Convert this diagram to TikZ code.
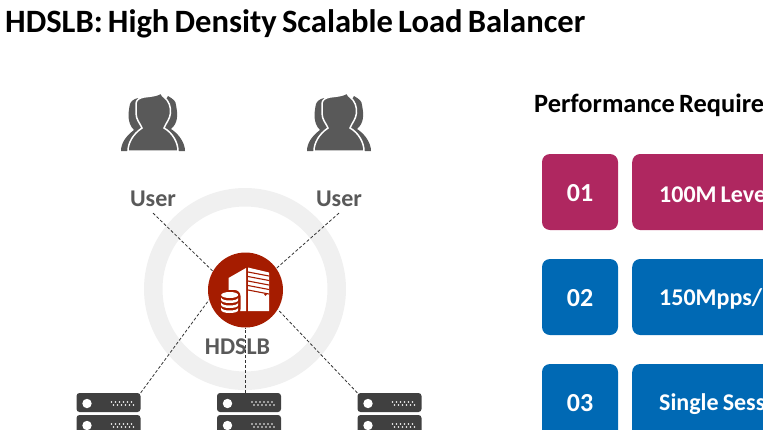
\documentclass[tikz,border=0pt]{standalone}
\usepackage{fontspec}
\setmainfont{Carlito}[WordSpace=0.7]
\usetikzlibrary{positioning}
\definecolor{ringgray}{HTML}{F0F0F0}
\definecolor{labelgray}{HTML}{595959}
\definecolor{icongray}{HTML}{595959}
\definecolor{servergray}{HTML}{404040}
\definecolor{hubred}{HTML}{A51C00}
\definecolor{rowmagenta}{HTML}{AF2760}
\definecolor{rowblue}{HTML}{0069B4}
\tikzset{
	headline/.style={font=\fontsize{32.6}{36}\selectfont\bfseries, anchor=west, inner sep=0pt},
	sidelabel/.style={font=\fontsize{24}{28}\selectfont\bfseries, text=labelgray, inner sep=0pt},
	numbox/.style={fill=#1, rounded corners=8pt, minimum width=76pt, minimum height=76pt, inner sep=0pt, text=white, text height=18.5pt, text depth=0pt, font=\fontsize{26}{30}\selectfont\bfseries},
	reqbox/.style={fill=#1, rounded corners=8pt, anchor=west, minimum height=76pt, text width=150pt, align=left, inner xsep=27pt, inner ysep=0pt, text=white, text height=16pt, text depth=0pt, font=\fontsize{24}{28}\selectfont\bfseries, execute at begin node={\spaceskip=0.17em\relax}},
	serverunit/.style={fill=servergray, rounded corners=3pt, minimum width=64pt, minimum height=19pt, inner sep=0pt},
	linkline/.style={densely dashed, line width=0.8pt, black!80},
	pics/usericon/.style={code={
		% back people
		\fill[icongray] (-32,0) .. controls (-32,-8) and (-27,-15) .. (-19,-21) .. controls (-26,-28) and (-25,-38) .. (-23,-47) .. controls (-22,-50) and (-19,-52) .. (-15,-53) -- (0,-30) -- (15,-55) .. controls (20,-52) and (23,-50) .. (23,-46) .. controls (25,-36) and (25,-28) .. (18,-22) .. controls (26,-17) and (32,-8) .. (32,0) -- cycle;
		% front person
		\draw[white, line width=1.5pt, fill=icongray] (-25,0) .. controls (-25,-8) and (-20,-17) .. (-11,-23) .. controls (-13,-28) and (-17,-31) .. (-17,-38) -- (-17,-47) .. controls (-17,-51) and (-14,-53) .. (-9,-54) .. controls (-2,-55) and (3,-55) .. (8,-58) .. controls (9,-56) and (10,-54) .. (11,-54) .. controls (16,-50) and (18,-44) .. (17.5,-38) .. controls (17,-32) and (13,-28) .. (11,-23) .. controls (20,-18) and (25,-8) .. (25,0) -- cycle;
	}},
}
\begin{document}
\begin{tikzpicture}[x=1pt, y=-1pt]
	\useasboundingbox (0,0) rectangle (763,429);
	\clip (0,0) rectangle (763,429);
	
	% Ring
	\fill[ringgray, even odd rule] (245,289) circle (101) circle (82.5);
	
	% Headings
	\node[headline] (title) at (5,24) {HDSLB: High Density Scalable Load Balancer};
	\node[headline, font=\fontsize{26.4}{30}\selectfont\bfseries] (perf) at (534,105.5) {Performance Require};
	
	% Users
	\pic at (153,151) {usericon};
	\pic at (339,151) {usericon};
	\node[sidelabel] (userL) at (153,199) {User};
	\node[sidelabel] (userR) at (339,199) {User};
	
	% Hub
	\node[circle, fill=hubred, minimum size=75pt, inner sep=0pt] (hub) at (245.5,290) {};
	\node[sidelabel] (hublabel) at (237.5,347) {HDSLB};
	
	% Building
	\fill[white] (228.5,278) -- (246,268) -- (246,311) -- (228.5,311) -- cycle;
	\fill[white] (248,267.5) -- (269,272.5) -- (269,311) -- (248,311) -- cycle;
	\foreach \yy in {272,276.5,281,285.5,290}
		\draw[hubred, line width=1.1pt] (248,\yy) -- (269,\yy+4);
	\fill[hubred] (265.5,294.5) circle (1.3);
	
	% Database
	\fill[hubred, rounded corners=6pt] (219.5,290) rectangle (240.5,315);
	\fill[white] (229.7,295) ellipse (8.5 and 3);
	\foreach \yy in {297.5,302.5,307.5}
		\fill[white] (221.2,\yy) .. controls (221.2,\yy+4) and (238.2,\yy+4) .. (238.2,\yy) -- (238.2,\yy+2.5) .. controls (238.2,\yy+6.5) and (221.2,\yy+6.5) .. (221.2,\yy+2.5) -- cycle;
	
	% Servers
	\foreach \name/\xx in {srvL/108.5,srvM/249,srvR/389.5} {
		\node[serverunit] (\name) at (\xx,402.5) {};
		\node[serverunit] (\name b) at (\xx,424.5) {};
		\foreach \yy in {402.5,424.5} {
			\fill[white] (\xx-21.5,\yy+1) circle (4.7);
			\foreach \k in {0,...,5} {
				\fill[white] (\xx+3+4*\k,\yy-0.5) circle (0.9);
				\fill[white] (\xx+5+4*\k,\yy+2.5) circle (0.9);
			}
		}
	}
	
	% Links
	\draw[linkline] (userL.south) ++(0,6) coordinate (userLfoot) -- (hub.150);
	\draw[linkline] (userR.south) ++(0,6) coordinate (userRfoot) -- (hub.35);
	\draw[linkline] (srvL.north east) -- (hub.195);
	\draw[linkline] (srvM.north -| hub.south) -- (hub.south);
	\draw[linkline] (srvR.north west) -- (hub.-31);
	
	% Requirement rows
	\node[numbox=rowmagenta] (numA) at (580,192) {01};
	\node[reqbox=rowmagenta, text height=20pt] (reqA) at (632,192) {100M Leve};
	\node[numbox=rowblue] (numB) at (580,297) {02};
	\node[reqbox=rowblue] (reqB) at (632,297) {150Mpps/};
	\node[numbox=rowblue] (numC) at (580,402) {03};
	\node[reqbox=rowblue] (reqC) at (632,402) {Single Sess};
\end{tikzpicture}
\end{document}
